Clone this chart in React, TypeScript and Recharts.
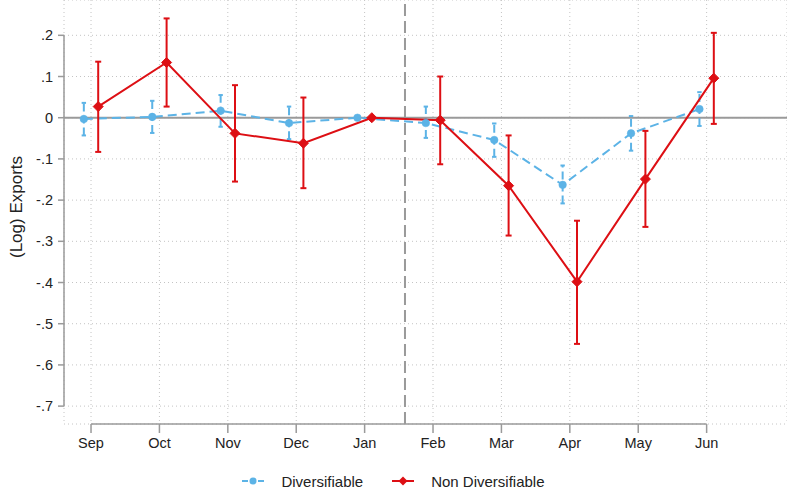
import React from "react";
import {
  ComposedChart,
  Line,
  XAxis,
  YAxis,
  CartesianGrid,
  ReferenceLine,
  ErrorBar,
  Legend,
} from "recharts";

const months = ["Sep", "Oct", "Nov", "Dec", "Jan", "Feb", "Mar", "Apr", "May", "Jun"];

// Diversifiable: point estimate and CI bounds
const divEst = [-0.003, 0.002, 0.017, -0.013, 0, -0.013, -0.054, -0.163, -0.038, 0.021];
const divLo = [-0.043, -0.037, -0.022, -0.052, 0, -0.049, -0.095, -0.208, -0.08, -0.02];
const divHi = [0.036, 0.041, 0.055, 0.027, 0, 0.027, -0.014, -0.116, 0.004, 0.062];

// Non Diversifiable
const nonEst = [0.027, 0.134, -0.038, -0.062, 0, -0.006, -0.165, -0.398, -0.149, 0.096];
const nonLo = [-0.083, 0.027, -0.155, -0.171, 0, -0.113, -0.286, -0.549, -0.265, -0.015];
const nonHi = [0.136, 0.241, 0.079, 0.049, 0, 0.1, -0.043, -0.25, -0.032, 0.206];

const yTicks = [0.2, 0.1, 0, -0.1, -0.2, -0.3, -0.4, -0.5, -0.6, -0.7];
const xTicks = months.map((_, i) => i + 1);
const eventX = 5.59; // dashed vertical marker between Jan and Feb

const BLUE = "#5cb3e6";
const RED = "#dd0f14";
const GRAY = "#9a9a9a";
const FONT = "'Liberation Sans', Arial, sans-serif";

const X_DOMAIN: [number, number] = [0.605, 11.175];
const Y_DOMAIN: [number, number] = [-0.7434, 0.2857];
const SHIFT = 0.105;

const build = (est: number[], lo: number[], hi: number[], shift: number) =>
  est.map((v, i) => ({
    x: i + 1 + shift,
    y: v,
    err: [v - lo[i], hi[i] - v],
  }));

const divData = build(divEst, divLo, divHi, -SHIFT);
const nonData = build(nonEst, nonLo, nonHi, SHIFT);

const fmtY = (v: number) => (v === 0 ? "0" : v.toFixed(1).replace("0.", "."));

const Diamond = (props: any) => {
  const { cx, cy, index } = props;
  if (cx == null || cy == null) return <g key={index} />;
  const s = 5;
  return (
    <polygon
      key={index}
      points={`${cx},${cy - s} ${cx + s},${cy} ${cx},${cy + s} ${cx - s},${cy}`}
      fill={RED}
      stroke={RED}
      strokeWidth={1}
    />
  );
};

const LegendContent = () => (
  <div
    style={{
      display: "flex",
      justifyContent: "center",
      alignItems: "center",
      height: 20,
      fontSize: 15,
      fontFamily: FONT,
      color: "#222",
    }}
  >
    <svg width={22} height={10}>
      <line x1={0} y1={5} x2={6} y2={5} stroke={BLUE} strokeWidth={2} />
      <line x1={16} y1={5} x2={22} y2={5} stroke={BLUE} strokeWidth={2} />
      <circle cx={11} cy={5} r={3.5} fill={BLUE} />
    </svg>
    <span style={{ marginLeft: 17 }}>Diversifiable</span>
    <svg width={22} height={10} style={{ marginLeft: 29 }}>
      <line x1={0} y1={5} x2={22} y2={5} stroke={RED} strokeWidth={2} />
      <polygon points="11,0.5 15.5,5 11,9.5 6.5,5" fill={RED} />
    </svg>
    <span style={{ marginLeft: 17 }}>Non Diversifiable</span>
  </div>
);

const YLabel = (props: any) => {
  const vb = props.viewBox || { x: 0, y: 0, width: 64, height: 424 };
  const cx = 16;
  const cy = vb.y + vb.height / 2 - 5;
  return (
    <text
      x={cx}
      y={cy}
      transform={`rotate(-90 ${cx} ${cy})`}
      textAnchor="middle"
      dominantBaseline="central"
      fontSize={17}
      fontFamily={FONT}
      fill="#222"
    >
      (Log) Exports
    </text>
  );
};

export default function App() {
  return (
    <div style={{ position: "absolute", left: 0, top: 0, background: "#fff" }}>
      <ComposedChart
        width={787}
        height={491}
        margin={{ top: 0, right: 0, bottom: 0, left: 0 }}
        style={{ fontFamily: FONT }}
      >
        <CartesianGrid stroke="#c4c4c4" strokeDasharray="1 3" />
        <XAxis
          type="number"
          dataKey="x"
          domain={X_DOMAIN}
          allowDataOverflow
          ticks={xTicks}
          interval={0}
          tickFormatter={(v: number) => months[v - 1] ?? ""}
          axisLine={false}
          tickLine={{ stroke: GRAY, strokeWidth: 1.5 }}
          tickSize={9}
          tickMargin={5}
          height={47}
          tick={{ fill: "#222", fontSize: 14.5, fontFamily: FONT }}
        />
        <YAxis
          type="number"
          domain={Y_DOMAIN}
          allowDataOverflow
          ticks={yTicks}
          interval={0}
          tickFormatter={fmtY}
          axisLine={false}
          tickLine={{ stroke: GRAY, strokeWidth: 1.5 }}
          tickSize={6}
          tickMargin={5}
          width={64}
          tick={{ fill: "#222", fontSize: 14.5, fontFamily: FONT }}
          label={{ content: YLabel }}
        />
        <ReferenceLine
          segment={[
            { x: X_DOMAIN[0], y: yTicks[0] },
            { x: X_DOMAIN[0], y: yTicks[yTicks.length - 1] },
          ]}
          stroke={GRAY}
          strokeWidth={1.5}
        />
        <ReferenceLine
          segment={[
            { x: xTicks[0], y: Y_DOMAIN[0] },
            { x: xTicks[xTicks.length - 1], y: Y_DOMAIN[0] },
          ]}
          stroke={GRAY}
          strokeWidth={1.5}
        />
        <ReferenceLine y={0} stroke={GRAY} strokeWidth={2} />
        <ReferenceLine x={eventX} stroke={GRAY} strokeWidth={2} strokeDasharray="12 5" />
        <Line
          data={divData}
          dataKey="y"
          name="Diversifiable"
          stroke={BLUE}
          strokeWidth={2}
          strokeDasharray="9 5"
          dot={{ r: 3.8, fill: BLUE, stroke: BLUE, strokeWidth: 0.5, strokeDasharray: "0" }}
          activeDot={false}
          isAnimationActive={false}
        >
          <ErrorBar
            dataKey="err"
            direction="y"
            width={2.2}
            stroke={BLUE}
            strokeWidth={2}
            strokeDasharray="8 4"
            isAnimationActive={false}
          />
        </Line>
        <Line
          data={nonData}
          dataKey="y"
          name="Non Diversifiable"
          stroke={RED}
          strokeWidth={2}
          dot={Diamond}
          activeDot={false}
          isAnimationActive={false}
        >
          <ErrorBar
            dataKey="err"
            direction="y"
            width={3}
            stroke={RED}
            strokeWidth={2}
            isAnimationActive={false}
          />
        </Line>
        <Legend verticalAlign="bottom" height={20} content={LegendContent} />
      </ComposedChart>
    </div>
  );
}
